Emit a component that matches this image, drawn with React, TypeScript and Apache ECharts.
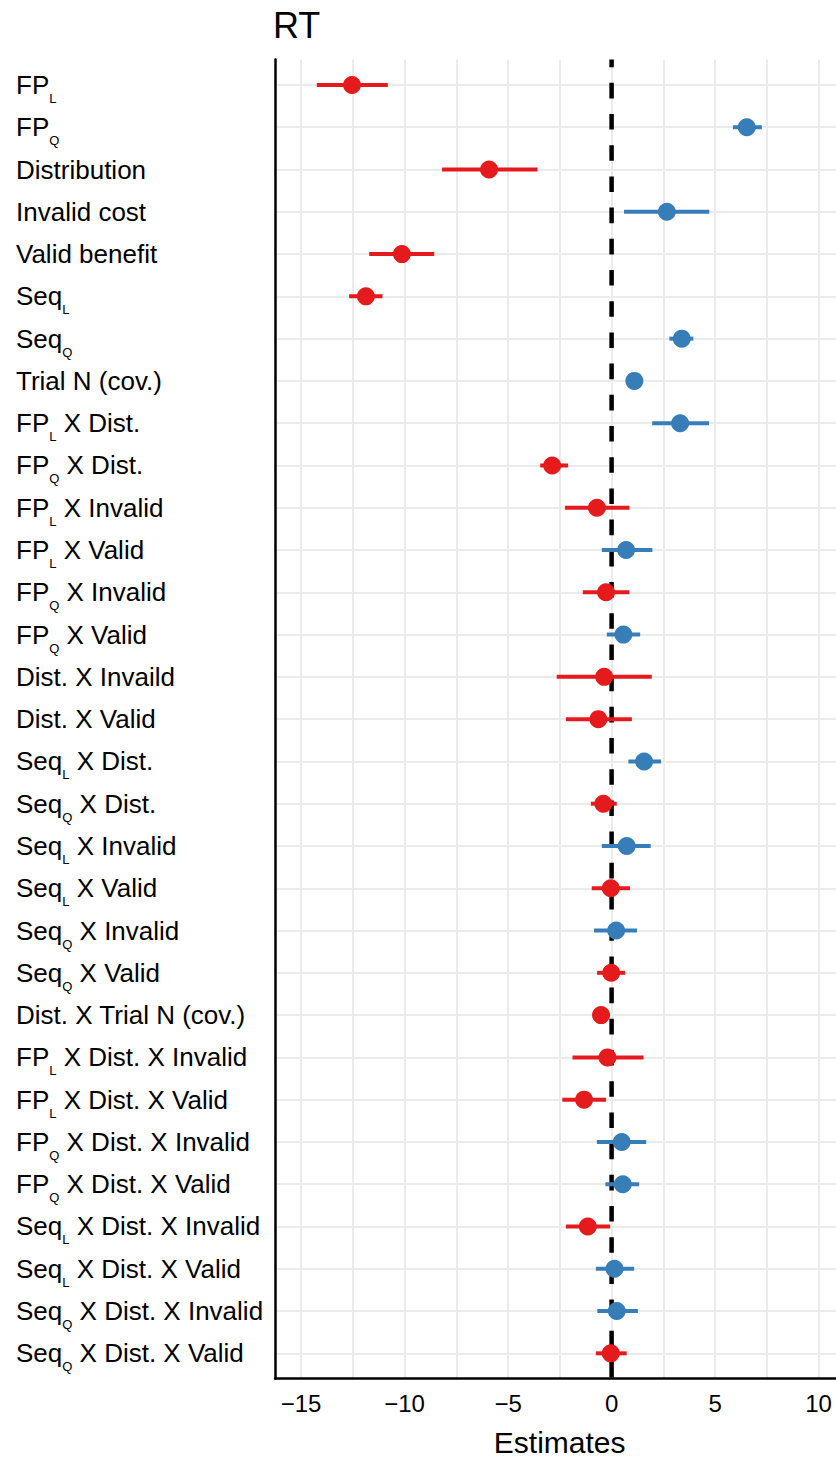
import React, { useEffect, useRef } from "react";
import * as echarts from "echarts";

const labels = [
  "FP_L", "FP_Q", "Distribution", "Invalid cost", "Valid benefit", "Seq_L", "Seq_Q",
  "Trial N (cov.)", "FP_L X Dist.", "FP_Q X Dist.", "FP_L X Invalid", "FP_L X Valid",
  "FP_Q X Invalid", "FP_Q X Valid", "Dist. X Invaild", "Dist. X Valid", "Seq_L X Dist.",
  "Seq_Q X Dist.", "Seq_L X Invalid", "Seq_L X Valid", "Seq_Q X Invalid", "Seq_Q X Valid",
  "Dist. X Trial N (cov.)", "FP_L X Dist. X Invalid", "FP_L X Dist. X Valid",
  "FP_Q X Dist. X Invalid", "FP_Q X Dist. X Valid", "Seq_L X Dist. X Invalid",
  "Seq_L X Dist. X Valid", "Seq_Q X Dist. X Invalid", "Seq_Q X Dist. X Valid",
];

const estimates = [
  -12.54, 6.53, -5.92, 2.67, -10.13, -11.87, 3.39, 1.1, 3.31, -2.87, -0.71, 0.7, -0.27,
  0.57, -0.36, -0.64, 1.57, -0.4, 0.73, -0.04, 0.22, -0.02, -0.51, -0.2, -1.33, 0.49,
  0.54, -1.15, 0.14, 0.25, -0.04,
];
const lower = [
  -14.24, 5.86, -8.19, 0.6, -11.71, -12.68, 2.79, 0.85, 1.96, -3.45, -2.25, -0.47, -1.39,
  -0.23, -2.65, -2.21, 0.81, -1.0, -0.47, -0.96, -0.85, -0.7, -0.75, -1.89, -2.38, -0.71,
  -0.3, -2.21, -0.76, -0.69, -0.76,
];
const upper = [
  -10.81, 7.26, -3.58, 4.72, -8.57, -11.07, 3.95, 1.35, 4.71, -2.1, 0.86, 1.97, 0.86,
  1.38, 1.94, 0.98, 2.39, 0.25, 1.89, 0.89, 1.23, 0.65, -0.27, 1.54, -0.27, 1.67, 1.33,
  -0.07, 1.09, 1.27, 0.73,
];

const xTickLabels = [-15, -10, -5, 0, 5, 10];
const xGridValues = [-15, -12.5, -10, -7.5, -5, -2.5, 0, 2.5, 5, 7.5, 10];
const X_MIN = -16.26;
const X_MAX = 10.84;
const Y_MIN = -0.6;
const Y_MAX = 30.6;
const ZERO = 0;

const RED = "#E41A1C";
const BLUE = "#377EB8";
const FONT = "'Liberation Sans', Arial, Helvetica, sans-serif";

function richLabel(label: string): string {
  const parts = label.split(/_([LQ])/);
  let out = "";
  parts.forEach((p, i) => {
    if (!p) return;
    out += i % 2 === 1 ? `{s|${p}}` : `{m|${p}}`;
  });
  return out;
}

export default function App() {
  const ref = useRef<HTMLDivElement>(null);

  useEffect(() => {
    if (!ref.current) return;
    const chart = echarts.init(ref.current, null, { renderer: "svg" });
    const rowIdx = labels.map((_, i) => i);
    const colorOf = (v: number) => (v < 0 ? RED : BLUE);

    const option: any = {
      animation: false,
      backgroundColor: "#ffffff",
      textStyle: { fontFamily: FONT },
      grid: { left: 275, right: 0, top: 59.6, bottom: 79.3, containLabel: false },
      xAxis: {
        type: "value",
        min: X_MIN,
        max: X_MAX,
        axisLine: { show: true, onZero: false, lineStyle: { color: "#000", width: 2.5 } },
        axisTick: { show: false, customValues: xGridValues },
        axisLabel: {
          customValues: xTickLabels,
          margin: 13,
          fontSize: 24,
          lineHeight: 24,
          color: "#000",
          fontFamily: FONT,
          formatter: (v: number) => (v < 0 ? "\u2212" + Math.abs(v) : String(v)),
        },
        splitLine: { show: true, lineStyle: { color: "#EBEBEB", width: 2 } },
      },
      yAxis: {
        type: "value",
        min: Y_MIN,
        max: Y_MAX,
        inverse: true,
        axisLine: { show: true, onZero: false, lineStyle: { color: "#000", width: 2.5 } },
        axisTick: { show: false, customValues: rowIdx },
        axisLabel: {
          customValues: rowIdx,
          align: "left",
          margin: 259,
          color: "#000",
          fontFamily: FONT,
          formatter: (v: number) => richLabel(labels[Math.round(v)] ?? ""),
          rich: {
            m: { fontSize: 26, lineHeight: 26, color: "#000", fontFamily: FONT },
            s: { fontSize: 13, lineHeight: 13, padding: [27, 0, 0, 0], color: "#000", fontFamily: FONT },
          },
        },
        splitLine: { show: true, lineStyle: { color: "#EBEBEB", width: 2 } },
      },
      graphic: [
        {
          type: "text",
          x: 273,
          y: 25,
          style: { text: "RT", fontSize: 36, fontFamily: FONT, fill: "#000", verticalAlign: "middle", align: "left" },
        },
        {
          type: "text",
          x: 559.7,
          y: 1442,
          style: { text: "Estimates", fontSize: 30, fontFamily: FONT, fill: "#000", verticalAlign: "middle", align: "center" },
        },
      ],
      series: [
        {
          type: "line",
          data: [
            [ZERO, Y_MIN],
            [ZERO, Y_MAX],
          ],
          symbol: "none",
          showSymbol: false,
          silent: true,
          z: 2,
          lineStyle: { color: "#000", width: 4.5, type: [15.6, 15.6], dashOffset: 7.6 },
        },
        {
          type: "custom",
          z: 3,
          data: labels.map((_, i) => [lower[i], upper[i], i, estimates[i]]),
          encode: { x: [0, 1], y: 2 },
          renderItem: (_params: any, api: any) => {
            const lo = api.value(0);
            const hi = api.value(1);
            const y = api.value(2);
            const est = api.value(3);
            const p1 = api.coord([lo, y]);
            const p2 = api.coord([hi, y]);
            return {
              type: "line",
              shape: { x1: p1[0], y1: p1[1], x2: p2[0], y2: p2[1] },
              style: { stroke: colorOf(est), lineWidth: 4 },
            };
          },
        },
        {
          type: "scatter",
          z: 4,
          symbol: "circle",
          symbolSize: 18,
          data: labels.map((_, i) => [estimates[i], i]),
          itemStyle: { color: (p: any) => colorOf(p.data[0]), opacity: 1 },
        },
      ],
    };

    chart.setOption(option);
    return () => chart.dispose();
  }, []);

  return (
    <div
      ref={ref}
      style={{ position: "absolute", left: 0, top: 0, width: 836, height: 1458 }}
    />
  );
}
